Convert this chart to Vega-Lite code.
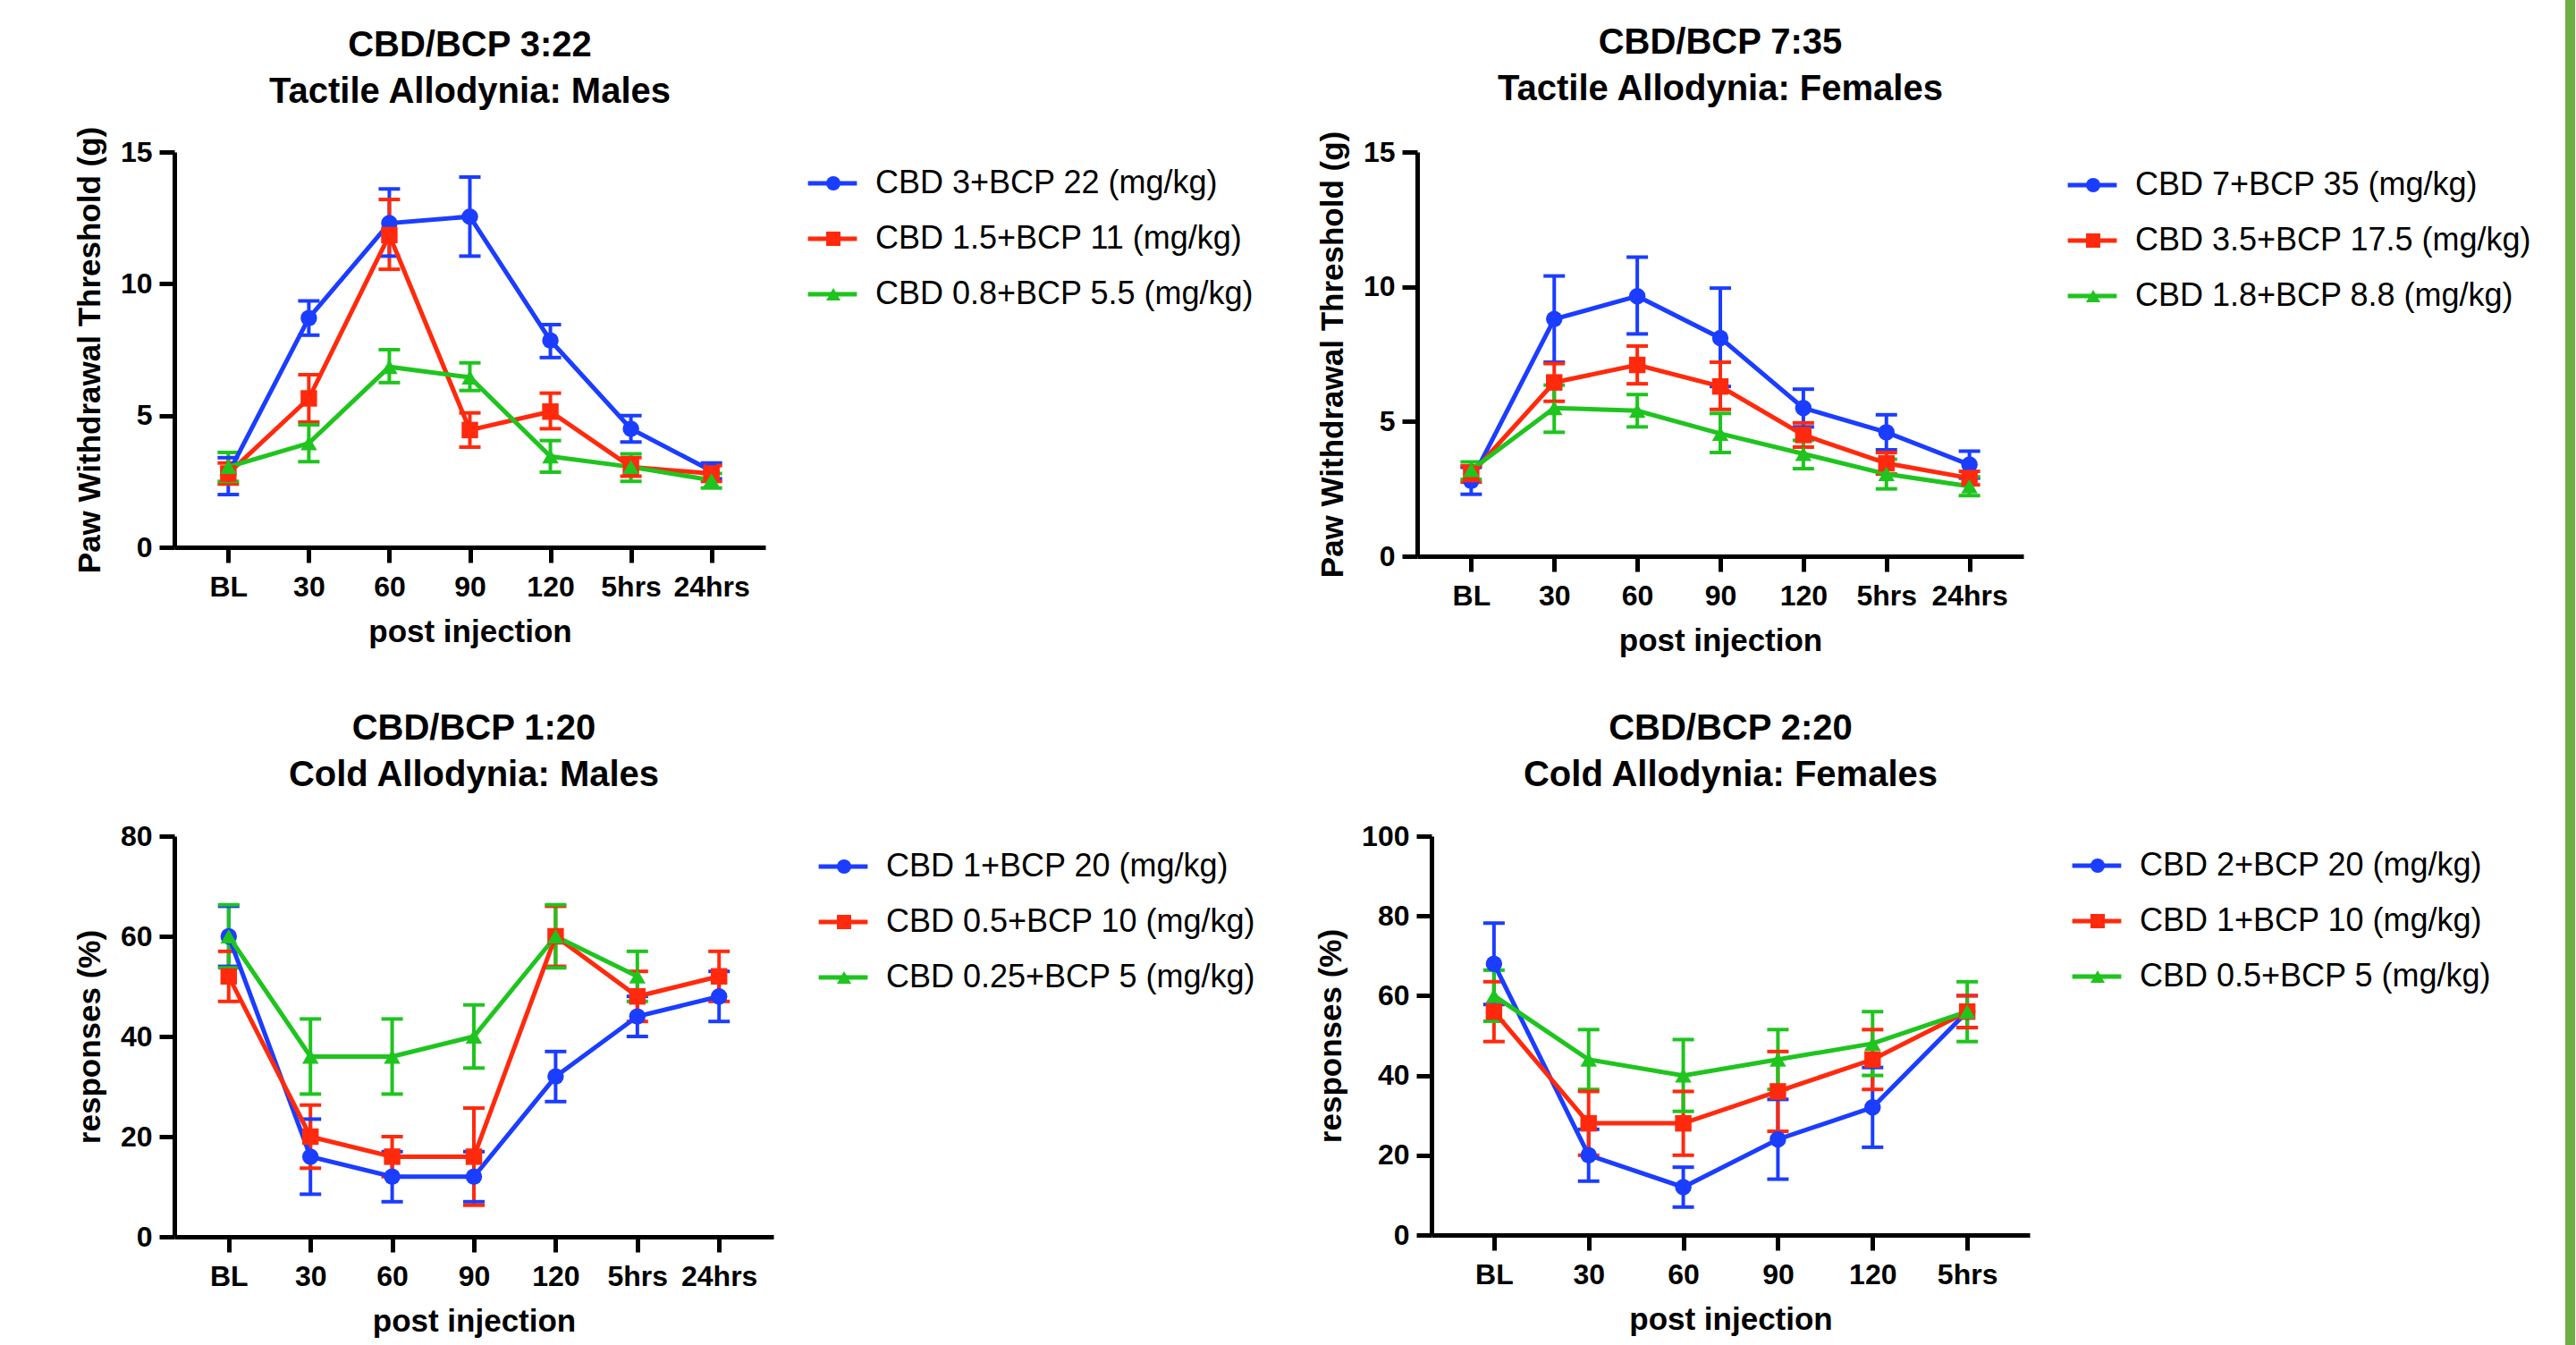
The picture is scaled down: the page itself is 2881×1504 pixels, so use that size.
{
  "$schema": "https://vega.github.io/schema/vega-lite/v6.json",
  "background": "white",
  "padding": {"left": 83, "top": 0, "right": 0, "bottom": 0},
  "datasets": {
    "tm": [
      {"i": 0, "time": "BL", "series": "CBD 3+BCP 22 (mg/kg)", "mean": 2.8, "lo": 2.0, "hi": 3.4},
      {"i": 1, "time": "30", "series": "CBD 3+BCP 22 (mg/kg)", "mean": 8.7, "lo": 8.05, "hi": 9.35},
      {"i": 2, "time": "60", "series": "CBD 3+BCP 22 (mg/kg)", "mean": 12.3, "lo": 11.05, "hi": 13.6},
      {"i": 3, "time": "90", "series": "CBD 3+BCP 22 (mg/kg)", "mean": 12.55, "lo": 11.05, "hi": 14.05},
      {"i": 4, "time": "120", "series": "CBD 3+BCP 22 (mg/kg)", "mean": 7.85, "lo": 7.2, "hi": 8.45},
      {"i": 5, "time": "5hrs", "series": "CBD 3+BCP 22 (mg/kg)", "mean": 4.5, "lo": 4.0, "hi": 5.0},
      {"i": 6, "time": "24hrs", "series": "CBD 3+BCP 22 (mg/kg)", "mean": 2.9, "lo": 2.6, "hi": 3.2},
      {"i": 0, "time": "BL", "series": "CBD 1.5+BCP 11 (mg/kg)", "mean": 2.8, "lo": 2.4, "hi": 3.2},
      {"i": 1, "time": "30", "series": "CBD 1.5+BCP 11 (mg/kg)", "mean": 5.65, "lo": 4.75, "hi": 6.55},
      {"i": 2, "time": "60", "series": "CBD 1.5+BCP 11 (mg/kg)", "mean": 11.85, "lo": 10.55, "hi": 13.2},
      {"i": 3, "time": "90", "series": "CBD 1.5+BCP 11 (mg/kg)", "mean": 4.45, "lo": 3.8, "hi": 5.1},
      {"i": 4, "time": "120", "series": "CBD 1.5+BCP 11 (mg/kg)", "mean": 5.15, "lo": 4.5, "hi": 5.85},
      {"i": 5, "time": "5hrs", "series": "CBD 1.5+BCP 11 (mg/kg)", "mean": 3.05, "lo": 2.7, "hi": 3.4},
      {"i": 6, "time": "24hrs", "series": "CBD 1.5+BCP 11 (mg/kg)", "mean": 2.8, "lo": 2.5, "hi": 3.1},
      {"i": 0, "time": "BL", "series": "CBD 0.8+BCP 5.5 (mg/kg)", "mean": 3.05, "lo": 2.5, "hi": 3.6},
      {"i": 1, "time": "30", "series": "CBD 0.8+BCP 5.5 (mg/kg)", "mean": 3.95, "lo": 3.25, "hi": 4.65},
      {"i": 2, "time": "60", "series": "CBD 0.8+BCP 5.5 (mg/kg)", "mean": 6.85, "lo": 6.25, "hi": 7.5},
      {"i": 3, "time": "90", "series": "CBD 0.8+BCP 5.5 (mg/kg)", "mean": 6.45, "lo": 5.95, "hi": 7.0},
      {"i": 4, "time": "120", "series": "CBD 0.8+BCP 5.5 (mg/kg)", "mean": 3.45, "lo": 2.85, "hi": 4.05},
      {"i": 5, "time": "5hrs", "series": "CBD 0.8+BCP 5.5 (mg/kg)", "mean": 3.05, "lo": 2.5, "hi": 3.55},
      {"i": 6, "time": "24hrs", "series": "CBD 0.8+BCP 5.5 (mg/kg)", "mean": 2.55, "lo": 2.25, "hi": 2.8}
    ],
    "tf": [
      {"i": 0, "time": "BL", "series": "CBD 7+BCP 35 (mg/kg)", "mean": 2.8, "lo": 2.3, "hi": 3.3},
      {"i": 1, "time": "30", "series": "CBD 7+BCP 35 (mg/kg)", "mean": 8.8, "lo": 7.2, "hi": 10.4},
      {"i": 2, "time": "60", "series": "CBD 7+BCP 35 (mg/kg)", "mean": 9.65, "lo": 8.25, "hi": 11.1},
      {"i": 3, "time": "90", "series": "CBD 7+BCP 35 (mg/kg)", "mean": 8.1, "lo": 6.3, "hi": 9.95},
      {"i": 4, "time": "120", "series": "CBD 7+BCP 35 (mg/kg)", "mean": 5.5, "lo": 4.8, "hi": 6.2},
      {"i": 5, "time": "5hrs", "series": "CBD 7+BCP 35 (mg/kg)", "mean": 4.6, "lo": 3.95, "hi": 5.25},
      {"i": 6, "time": "24hrs", "series": "CBD 7+BCP 35 (mg/kg)", "mean": 3.4, "lo": 2.9, "hi": 3.9},
      {"i": 0, "time": "BL", "series": "CBD 3.5+BCP 17.5 (mg/kg)", "mean": 3.05, "lo": 2.75, "hi": 3.35},
      {"i": 1, "time": "30", "series": "CBD 3.5+BCP 17.5 (mg/kg)", "mean": 6.45, "lo": 5.75, "hi": 7.15},
      {"i": 2, "time": "60", "series": "CBD 3.5+BCP 17.5 (mg/kg)", "mean": 7.1, "lo": 6.4, "hi": 7.8},
      {"i": 3, "time": "90", "series": "CBD 3.5+BCP 17.5 (mg/kg)", "mean": 6.3, "lo": 5.45, "hi": 7.2},
      {"i": 4, "time": "120", "series": "CBD 3.5+BCP 17.5 (mg/kg)", "mean": 4.5, "lo": 4.05, "hi": 4.95},
      {"i": 5, "time": "5hrs", "series": "CBD 3.5+BCP 17.5 (mg/kg)", "mean": 3.45, "lo": 3.05, "hi": 3.85},
      {"i": 6, "time": "24hrs", "series": "CBD 3.5+BCP 17.5 (mg/kg)", "mean": 2.9, "lo": 2.65, "hi": 3.15},
      {"i": 0, "time": "BL", "series": "CBD 1.8+BCP 8.8 (mg/kg)", "mean": 3.2, "lo": 2.85, "hi": 3.5},
      {"i": 1, "time": "30", "series": "CBD 1.8+BCP 8.8 (mg/kg)", "mean": 5.5, "lo": 4.6, "hi": 6.35},
      {"i": 2, "time": "60", "series": "CBD 1.8+BCP 8.8 (mg/kg)", "mean": 5.4, "lo": 4.8, "hi": 6.0},
      {"i": 3, "time": "90", "series": "CBD 1.8+BCP 8.8 (mg/kg)", "mean": 4.55, "lo": 3.85, "hi": 5.3},
      {"i": 4, "time": "120", "series": "CBD 1.8+BCP 8.8 (mg/kg)", "mean": 3.8, "lo": 3.25, "hi": 4.3},
      {"i": 5, "time": "5hrs", "series": "CBD 1.8+BCP 8.8 (mg/kg)", "mean": 3.05, "lo": 2.5, "hi": 3.6},
      {"i": 6, "time": "24hrs", "series": "CBD 1.8+BCP 8.8 (mg/kg)", "mean": 2.6, "lo": 2.25, "hi": 2.95}
    ],
    "cm": [
      {"i": 0, "time": "BL", "series": "CBD 1+BCP 20 (mg/kg)", "mean": 60, "lo": 54, "hi": 66},
      {"i": 1, "time": "30", "series": "CBD 1+BCP 20 (mg/kg)", "mean": 16, "lo": 8.5, "hi": 23.5},
      {"i": 2, "time": "60", "series": "CBD 1+BCP 20 (mg/kg)", "mean": 12, "lo": 7, "hi": 17},
      {"i": 3, "time": "90", "series": "CBD 1+BCP 20 (mg/kg)", "mean": 12, "lo": 7, "hi": 17},
      {"i": 4, "time": "120", "series": "CBD 1+BCP 20 (mg/kg)", "mean": 32, "lo": 27, "hi": 37},
      {"i": 5, "time": "5hrs", "series": "CBD 1+BCP 20 (mg/kg)", "mean": 44, "lo": 40, "hi": 48},
      {"i": 6, "time": "24hrs", "series": "CBD 1+BCP 20 (mg/kg)", "mean": 48, "lo": 43, "hi": 53},
      {"i": 0, "time": "BL", "series": "CBD 0.5+BCP 10 (mg/kg)", "mean": 52, "lo": 47, "hi": 57},
      {"i": 1, "time": "30", "series": "CBD 0.5+BCP 10 (mg/kg)", "mean": 20, "lo": 13.7, "hi": 26.3},
      {"i": 2, "time": "60", "series": "CBD 0.5+BCP 10 (mg/kg)", "mean": 16, "lo": 12, "hi": 20},
      {"i": 3, "time": "90", "series": "CBD 0.5+BCP 10 (mg/kg)", "mean": 16, "lo": 6.3, "hi": 25.7},
      {"i": 4, "time": "120", "series": "CBD 0.5+BCP 10 (mg/kg)", "mean": 60, "lo": 54, "hi": 66},
      {"i": 5, "time": "5hrs", "series": "CBD 0.5+BCP 10 (mg/kg)", "mean": 48, "lo": 43, "hi": 53},
      {"i": 6, "time": "24hrs", "series": "CBD 0.5+BCP 10 (mg/kg)", "mean": 52, "lo": 47, "hi": 57},
      {"i": 0, "time": "BL", "series": "CBD 0.25+BCP 5 (mg/kg)", "mean": 60, "lo": 53.7, "hi": 66.3},
      {"i": 1, "time": "30", "series": "CBD 0.25+BCP 5 (mg/kg)", "mean": 36, "lo": 28.5, "hi": 43.5},
      {"i": 2, "time": "60", "series": "CBD 0.25+BCP 5 (mg/kg)", "mean": 36, "lo": 28.5, "hi": 43.5},
      {"i": 3, "time": "90", "series": "CBD 0.25+BCP 5 (mg/kg)", "mean": 40, "lo": 33.7, "hi": 46.3},
      {"i": 4, "time": "120", "series": "CBD 0.25+BCP 5 (mg/kg)", "mean": 60, "lo": 53.7, "hi": 66.3},
      {"i": 5, "time": "5hrs", "series": "CBD 0.25+BCP 5 (mg/kg)", "mean": 52, "lo": 47, "hi": 57}
    ],
    "cf": [
      {"i": 0, "time": "BL", "series": "CBD 2+BCP 20 (mg/kg)", "mean": 68, "lo": 57.8, "hi": 78.2},
      {"i": 1, "time": "30", "series": "CBD 2+BCP 20 (mg/kg)", "mean": 20, "lo": 13.5, "hi": 26.5},
      {"i": 2, "time": "60", "series": "CBD 2+BCP 20 (mg/kg)", "mean": 12, "lo": 7, "hi": 17},
      {"i": 3, "time": "90", "series": "CBD 2+BCP 20 (mg/kg)", "mean": 24, "lo": 14, "hi": 34},
      {"i": 4, "time": "120", "series": "CBD 2+BCP 20 (mg/kg)", "mean": 32, "lo": 22, "hi": 42},
      {"i": 5, "time": "5hrs", "series": "CBD 2+BCP 20 (mg/kg)", "mean": 56, "lo": 52, "hi": 60},
      {"i": 0, "time": "BL", "series": "CBD 1+BCP 10 (mg/kg)", "mean": 56, "lo": 48.5, "hi": 63.5},
      {"i": 1, "time": "30", "series": "CBD 1+BCP 10 (mg/kg)", "mean": 28, "lo": 20, "hi": 36},
      {"i": 2, "time": "60", "series": "CBD 1+BCP 10 (mg/kg)", "mean": 28, "lo": 20, "hi": 36},
      {"i": 3, "time": "90", "series": "CBD 1+BCP 10 (mg/kg)", "mean": 36, "lo": 26, "hi": 46},
      {"i": 4, "time": "120", "series": "CBD 1+BCP 10 (mg/kg)", "mean": 44, "lo": 36.5, "hi": 51.5},
      {"i": 5, "time": "5hrs", "series": "CBD 1+BCP 10 (mg/kg)", "mean": 56, "lo": 52, "hi": 60},
      {"i": 0, "time": "BL", "series": "CBD 0.5+BCP 5 (mg/kg)", "mean": 60, "lo": 53.6, "hi": 66.4},
      {"i": 1, "time": "30", "series": "CBD 0.5+BCP 5 (mg/kg)", "mean": 44, "lo": 36.5, "hi": 51.5},
      {"i": 2, "time": "60", "series": "CBD 0.5+BCP 5 (mg/kg)", "mean": 40, "lo": 31, "hi": 49},
      {"i": 3, "time": "90", "series": "CBD 0.5+BCP 5 (mg/kg)", "mean": 44, "lo": 36.5, "hi": 51.5},
      {"i": 4, "time": "120", "series": "CBD 0.5+BCP 5 (mg/kg)", "mean": 48, "lo": 40, "hi": 56},
      {"i": 5, "time": "5hrs", "series": "CBD 0.5+BCP 5 (mg/kg)", "mean": 56, "lo": 48.5, "hi": 63.5}
    ]
  },
  "hconcat": [
    {
      "bounds": "full",
      "spacing": 61,
      "resolve": {"scale": {"color": "independent", "shape": "independent"}, "legend": {"color": "independent", "shape": "independent"}},
      "vconcat": [
        {
          "bounds": "flush",
          "spacing": 729,
          "resolve": {"scale": {"color": "independent", "shape": "independent"}, "legend": {"color": "independent", "shape": "independent"}},
          "hconcat": [
            {
              "width": 661, "height": 442,
              "title": {"text": ["CBD/BCP 3:22", "Tactile Allodynia: Males"], "offset": 18},
              "data": {"name": "tm"},
              "resolve": {"legend": {"color": "independent", "shape": "independent"}},
              "encoding": {
                "x": {"field": "time", "type": "ordinal", "title": "post injection", "scale": {"type": "point", "domain": ["BL", "30", "60", "90", "120", "5hrs", "24hrs"], "padding": 0.67}},
                "y": {"field": "mean", "type": "quantitative", "title": "Paw Withdrawal Threshold (g)", "scale": {"domain": [0, 15]}, "axis": {"values": [0, 5, 10, 15]}},
                "color": {"field": "series", "type": "nominal", "scale": {"domain": ["CBD 3+BCP 22 (mg/kg)", "CBD 1.5+BCP 11 (mg/kg)", "CBD 0.8+BCP 5.5 (mg/kg)"], "range": ["#1B3DFF", "#FF2A0D", "#1FC41F"]}, "legend": null}
              },
              "layer": [
                {"mark": {"type": "rule", "strokeWidth": 4}, "encoding": {"y": {"field": "lo", "type": "quantitative", "title": "Paw Withdrawal Threshold (g)", "scale": {"domain": [0, 15]}, "axis": {"values": [0, 5, 10, 15]}}, "y2": {"field": "hi"}}},
                {"mark": {"type": "tick", "orient": "horizontal", "size": 24, "thickness": 4, "opacity": 1}, "encoding": {"y": {"field": "lo", "type": "quantitative", "title": "Paw Withdrawal Threshold (g)", "scale": {"domain": [0, 15]}, "axis": {"values": [0, 5, 10, 15]}}}},
                {"mark": {"type": "tick", "orient": "horizontal", "size": 24, "thickness": 4, "opacity": 1}, "encoding": {"y": {"field": "hi", "type": "quantitative", "title": "Paw Withdrawal Threshold (g)", "scale": {"domain": [0, 15]}, "axis": {"values": [0, 5, 10, 15]}}}},
                {"mark": {"type": "line", "strokeWidth": 5}, "encoding": {"order": {"field": "i"},
                  "color": {"field": "series", "type": "nominal", "scale": {"domain": ["CBD 3+BCP 22 (mg/kg)", "CBD 1.5+BCP 11 (mg/kg)", "CBD 0.8+BCP 5.5 (mg/kg)"], "range": ["#1B3DFF", "#FF2A0D", "#1FC41F"]},
                    "legend": {"orient": "none", "legendX": 706, "legendY": 5, "symbolType": "stroke", "symbolSize": 3000, "symbolStrokeWidth": 5, "rowPadding": 14, "labelOffset": 17, "labelOpacity": 0, "labelExpr": "''"}}}},
                {"mark": {"type": "point", "filled": true, "size": 340, "opacity": 1},
                 "encoding": {
                   "color": {"field": "series", "type": "nominal", "scale": {"domain": ["CBD 3+BCP 22 (mg/kg)", "CBD 1.5+BCP 11 (mg/kg)", "CBD 0.8+BCP 5.5 (mg/kg)"], "range": ["#1B3DFF", "#FF2A0D", "#1FC41F"]},
                     "legend": {"orient": "none", "legendX": 719, "legendY": 17, "symbolSize": 256, "symbolStrokeWidth": 0, "rowPadding": 26, "labelOffset": 29}},
                   "shape": {"field": "series", "type": "nominal", "scale": {"domain": ["CBD 3+BCP 22 (mg/kg)", "CBD 1.5+BCP 11 (mg/kg)", "CBD 0.8+BCP 5.5 (mg/kg)"], "range": ["circle", "square", "triangle-up"]},
                     "legend": {"orient": "none", "legendX": 719, "legendY": 17, "symbolSize": 256, "symbolStrokeWidth": 0, "rowPadding": 26, "labelOffset": 29}}
                 }}
              ]
            },
            {
              "width": 678, "height": 452,
              "title": {"text": ["CBD/BCP 7:35", "Tactile Allodynia: Females"], "offset": 26},
              "data": {"name": "tf"},
              "resolve": {"legend": {"color": "independent", "shape": "independent"}},
              "encoding": {
                "x": {"field": "time", "type": "ordinal", "title": "post injection", "scale": {"type": "point", "domain": ["BL", "30", "60", "90", "120", "5hrs", "24hrs"], "padding": 0.65}},
                "y": {"field": "mean", "type": "quantitative", "title": "Paw Withdrawal Threshold (g)", "scale": {"domain": [0, 15]}, "axis": {"values": [0, 5, 10, 15]}},
                "color": {"field": "series", "type": "nominal", "scale": {"domain": ["CBD 7+BCP 35 (mg/kg)", "CBD 3.5+BCP 17.5 (mg/kg)", "CBD 1.8+BCP 8.8 (mg/kg)"], "range": ["#1B3DFF", "#FF2A0D", "#1FC41F"]}, "legend": null}
              },
              "layer": [
                {"mark": {"type": "rule", "strokeWidth": 4}, "encoding": {"y": {"field": "lo", "type": "quantitative", "title": "Paw Withdrawal Threshold (g)", "scale": {"domain": [0, 15]}, "axis": {"values": [0, 5, 10, 15]}}, "y2": {"field": "hi"}}},
                {"mark": {"type": "tick", "orient": "horizontal", "size": 24, "thickness": 4, "opacity": 1}, "encoding": {"y": {"field": "lo", "type": "quantitative", "title": "Paw Withdrawal Threshold (g)", "scale": {"domain": [0, 15]}, "axis": {"values": [0, 5, 10, 15]}}}},
                {"mark": {"type": "tick", "orient": "horizontal", "size": 24, "thickness": 4, "opacity": 1}, "encoding": {"y": {"field": "hi", "type": "quantitative", "title": "Paw Withdrawal Threshold (g)", "scale": {"domain": [0, 15]}, "axis": {"values": [0, 5, 10, 15]}}}},
                {"mark": {"type": "line", "strokeWidth": 5}, "encoding": {"order": {"field": "i"},
                  "color": {"field": "series", "type": "nominal", "scale": {"domain": ["CBD 7+BCP 35 (mg/kg)", "CBD 3.5+BCP 17.5 (mg/kg)", "CBD 1.8+BCP 8.8 (mg/kg)"], "range": ["#1B3DFF", "#FF2A0D", "#1FC41F"]},
                    "legend": {"orient": "none", "legendX": 725, "legendY": 7, "symbolType": "stroke", "symbolSize": 3000, "symbolStrokeWidth": 5, "rowPadding": 14, "labelOffset": 17, "labelOpacity": 0, "labelExpr": "''"}}}},
                {"mark": {"type": "point", "filled": true, "size": 340, "opacity": 1},
                 "encoding": {
                   "color": {"field": "series", "type": "nominal", "scale": {"domain": ["CBD 7+BCP 35 (mg/kg)", "CBD 3.5+BCP 17.5 (mg/kg)", "CBD 1.8+BCP 8.8 (mg/kg)"], "range": ["#1B3DFF", "#FF2A0D", "#1FC41F"]},
                     "legend": {"orient": "none", "legendX": 738, "legendY": 19, "symbolSize": 256, "symbolStrokeWidth": 0, "rowPadding": 26, "labelOffset": 29}},
                   "shape": {"field": "series", "type": "nominal", "scale": {"domain": ["CBD 7+BCP 35 (mg/kg)", "CBD 3.5+BCP 17.5 (mg/kg)", "CBD 1.8+BCP 8.8 (mg/kg)"], "range": ["circle", "square", "triangle-up"]},
                     "legend": {"orient": "none", "legendX": 738, "legendY": 19, "symbolSize": 256, "symbolStrokeWidth": 0, "rowPadding": 26, "labelOffset": 29}}
                 }}
              ]
            }
          ]
        },
        {
          "bounds": "flush",
          "spacing": 736,
          "resolve": {"scale": {"color": "independent", "shape": "independent"}, "legend": {"color": "independent", "shape": "independent"}},
          "hconcat": [
            {
              "width": 670, "height": 448,
              "title": {"text": ["CBD/BCP 1:20", "Cold Allodynia: Males"], "offset": 32},
              "data": {"name": "cm"},
              "resolve": {"legend": {"color": "independent", "shape": "independent"}},
              "encoding": {
                "x": {"field": "time", "type": "ordinal", "title": "post injection", "scale": {"type": "point", "domain": ["BL", "30", "60", "90", "120", "5hrs", "24hrs"], "padding": 0.665}},
                "y": {"field": "mean", "type": "quantitative", "title": "responses (%)", "scale": {"domain": [0, 80]}, "axis": {"values": [0, 20, 40, 60, 80]}},
                "color": {"field": "series", "type": "nominal", "scale": {"domain": ["CBD 1+BCP 20 (mg/kg)", "CBD 0.5+BCP 10 (mg/kg)", "CBD 0.25+BCP 5 (mg/kg)"], "range": ["#1B3DFF", "#FF2A0D", "#1FC41F"]}, "legend": null}
              },
              "layer": [
                {"mark": {"type": "rule", "strokeWidth": 4}, "encoding": {"y": {"field": "lo", "type": "quantitative", "title": "responses (%)", "scale": {"domain": [0, 80]}, "axis": {"values": [0, 20, 40, 60, 80]}}, "y2": {"field": "hi"}}},
                {"mark": {"type": "tick", "orient": "horizontal", "size": 24, "thickness": 4, "opacity": 1}, "encoding": {"y": {"field": "lo", "type": "quantitative", "title": "responses (%)", "scale": {"domain": [0, 80]}, "axis": {"values": [0, 20, 40, 60, 80]}}}},
                {"mark": {"type": "tick", "orient": "horizontal", "size": 24, "thickness": 4, "opacity": 1}, "encoding": {"y": {"field": "hi", "type": "quantitative", "title": "responses (%)", "scale": {"domain": [0, 80]}, "axis": {"values": [0, 20, 40, 60, 80]}}}},
                {"mark": {"type": "line", "strokeWidth": 5}, "encoding": {"order": {"field": "i"},
                  "color": {"field": "series", "type": "nominal", "scale": {"domain": ["CBD 1+BCP 20 (mg/kg)", "CBD 0.5+BCP 10 (mg/kg)", "CBD 0.25+BCP 5 (mg/kg)"], "range": ["#1B3DFF", "#FF2A0D", "#1FC41F"]},
                    "legend": {"orient": "none", "legendX": 718, "legendY": 4, "symbolType": "stroke", "symbolSize": 3000, "symbolStrokeWidth": 5, "rowPadding": 14, "labelOffset": 17, "labelOpacity": 0, "labelExpr": "''"}}}},
                {"mark": {"type": "point", "filled": true, "size": 340, "opacity": 1},
                 "encoding": {
                   "color": {"field": "series", "type": "nominal", "scale": {"domain": ["CBD 1+BCP 20 (mg/kg)", "CBD 0.5+BCP 10 (mg/kg)", "CBD 0.25+BCP 5 (mg/kg)"], "range": ["#1B3DFF", "#FF2A0D", "#1FC41F"]},
                     "legend": {"orient": "none", "legendX": 731, "legendY": 16, "symbolSize": 256, "symbolStrokeWidth": 0, "rowPadding": 26, "labelOffset": 29}},
                   "shape": {"field": "series", "type": "nominal", "scale": {"domain": ["CBD 1+BCP 20 (mg/kg)", "CBD 0.5+BCP 10 (mg/kg)", "CBD 0.25+BCP 5 (mg/kg)"], "range": ["circle", "square", "triangle-up"]},
                     "legend": {"orient": "none", "legendX": 731, "legendY": 16, "symbolSize": 256, "symbolStrokeWidth": 0, "rowPadding": 26, "labelOffset": 29}}
                 }}
              ]
            },
            {
              "width": 669, "height": 446,
              "title": {"text": ["CBD/BCP 2:20", "Cold Allodynia: Females"], "offset": 32},
              "data": {"name": "cf"},
              "resolve": {"legend": {"color": "independent", "shape": "independent"}},
              "encoding": {
                "x": {"field": "time", "type": "ordinal", "title": "post injection", "scale": {"type": "point", "domain": ["BL", "30", "60", "90", "120", "5hrs"], "padding": 0.66}},
                "y": {"field": "mean", "type": "quantitative", "title": "responses (%)", "scale": {"domain": [0, 100]}, "axis": {"values": [0, 20, 40, 60, 80, 100]}},
                "color": {"field": "series", "type": "nominal", "scale": {"domain": ["CBD 2+BCP 20 (mg/kg)", "CBD 1+BCP 10 (mg/kg)", "CBD 0.5+BCP 5 (mg/kg)"], "range": ["#1B3DFF", "#FF2A0D", "#1FC41F"]}, "legend": null}
              },
              "layer": [
                {"mark": {"type": "rule", "strokeWidth": 4}, "encoding": {"y": {"field": "lo", "type": "quantitative", "title": "responses (%)", "scale": {"domain": [0, 100]}, "axis": {"values": [0, 20, 40, 60, 80, 100]}}, "y2": {"field": "hi"}}},
                {"mark": {"type": "tick", "orient": "horizontal", "size": 24, "thickness": 4, "opacity": 1}, "encoding": {"y": {"field": "lo", "type": "quantitative", "title": "responses (%)", "scale": {"domain": [0, 100]}, "axis": {"values": [0, 20, 40, 60, 80, 100]}}}},
                {"mark": {"type": "tick", "orient": "horizontal", "size": 24, "thickness": 4, "opacity": 1}, "encoding": {"y": {"field": "hi", "type": "quantitative", "title": "responses (%)", "scale": {"domain": [0, 100]}, "axis": {"values": [0, 20, 40, 60, 80, 100]}}}},
                {"mark": {"type": "line", "strokeWidth": 5}, "encoding": {"order": {"field": "i"},
                  "color": {"field": "series", "type": "nominal", "scale": {"domain": ["CBD 2+BCP 20 (mg/kg)", "CBD 1+BCP 10 (mg/kg)", "CBD 0.5+BCP 5 (mg/kg)"], "range": ["#1B3DFF", "#FF2A0D", "#1FC41F"]},
                    "legend": {"orient": "none", "legendX": 714, "legendY": 3, "symbolType": "stroke", "symbolSize": 3000, "symbolStrokeWidth": 5, "rowPadding": 14, "labelOffset": 17, "labelOpacity": 0, "labelExpr": "''"}}}},
                {"mark": {"type": "point", "filled": true, "size": 340, "opacity": 1},
                 "encoding": {
                   "color": {"field": "series", "type": "nominal", "scale": {"domain": ["CBD 2+BCP 20 (mg/kg)", "CBD 1+BCP 10 (mg/kg)", "CBD 0.5+BCP 5 (mg/kg)"], "range": ["#1B3DFF", "#FF2A0D", "#1FC41F"]},
                     "legend": {"orient": "none", "legendX": 727, "legendY": 15, "symbolSize": 256, "symbolStrokeWidth": 0, "rowPadding": 26, "labelOffset": 29}},
                   "shape": {"field": "series", "type": "nominal", "scale": {"domain": ["CBD 2+BCP 20 (mg/kg)", "CBD 1+BCP 10 (mg/kg)", "CBD 0.5+BCP 5 (mg/kg)"], "range": ["circle", "square", "triangle-up"]},
                     "legend": {"orient": "none", "legendX": 727, "legendY": 15, "symbolSize": 256, "symbolStrokeWidth": 0, "rowPadding": 26, "labelOffset": 29}}
                 }}
              ]
            }
          ]
        }
      ]
    },
    {
      "width": 11,
      "height": 1334,
      "data": {"values": [{}]},
      "mark": {"type": "rect", "color": "#6DAE45", "clip": false},
      "encoding": {
        "x": {"datum": 0, "type": "quantitative", "scale": {"domain": [0, 1], "nice": false, "zero": false}, "axis": null},
        "x2": {"datum": 1},
        "y": {"datum": 0, "type": "quantitative", "scale": {"domain": [0, 1334], "nice": false, "zero": false}, "axis": null},
        "y2": {"datum": 1504}
      }
    }
  ],
  "spacing": 37,
  "bounds": "full",
  "resolve": {"scale": {"color": "independent", "shape": "independent"}, "legend": {"color": "independent", "shape": "independent"}},
  "config": {
    "font": "Liberation Sans",
    "view": {"stroke": null},
    "axis": {
      "domainColor": "black", "domainWidth": 5, "tickColor": "black", "tickWidth": 5, "tickSize": 17,
      "labelFont": "Liberation Sans", "labelFontSize": 32, "labelFontWeight": "bold", "labelColor": "black",
      "titleFont": "Liberation Sans", "titleFontSize": 35, "titleFontWeight": "bold", "titleColor": "black",
      "grid": false, "labelFlush": false, "labelOverlap": false
    },
    "axisX": {"labelAngle": 0, "labelPadding": 12, "titlePadding": 17},
    "axisY": {"labelPadding": 8, "titlePadding": 16},
    "title": {"font": "Liberation Sans", "fontSize": 40, "fontWeight": "bold", "color": "black", "lineHeight": 52, "frame": "group", "anchor": "middle", "offset": 18},
    "legend": {
      "title": null, "padding": 0, "labelFont": "Liberation Sans", "labelFontSize": 36, "labelFontWeight": "normal", "labelColor": "black",
      "labelLimit": 0, "direction": "vertical", "symbolOpacity": 1
    }
  }
}
